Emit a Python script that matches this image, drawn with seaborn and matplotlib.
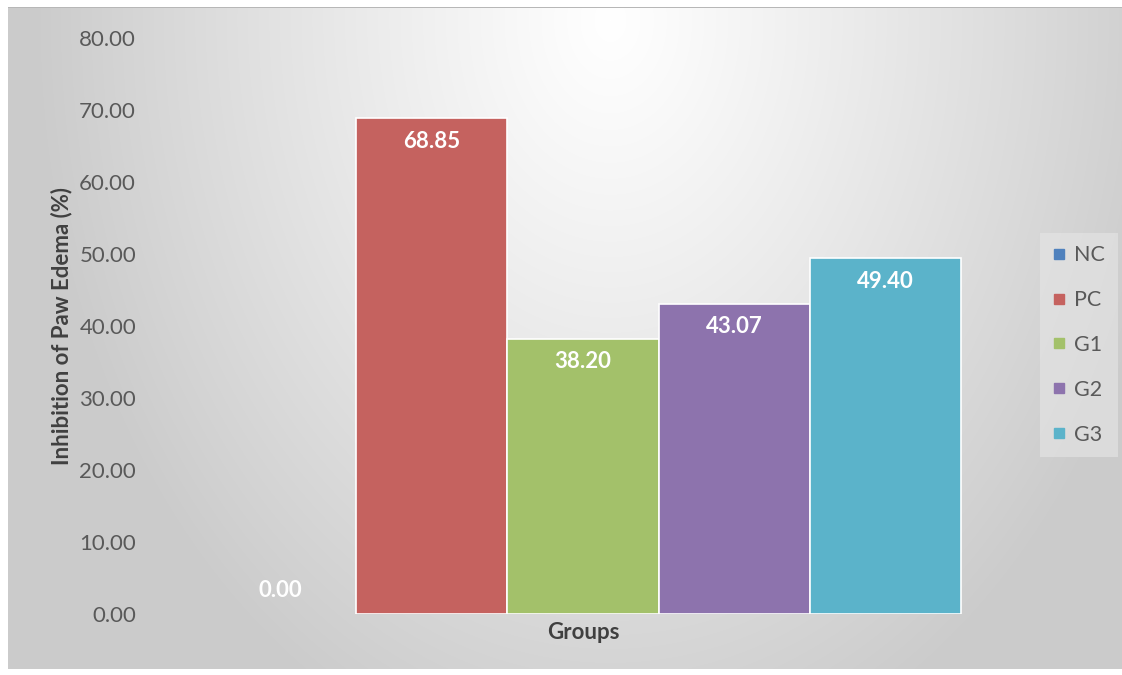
import numpy as np
import pandas as pd
import matplotlib
matplotlib.use("Agg")
import matplotlib.pyplot as plt
from matplotlib.lines import Line2D
import seaborn as sns

# ---- data ----
groups = ["NC", "PC", "G1", "G2", "G3"]
values = [0.00, 68.85, 38.20, 43.07, 49.40]
category = ["Groups"] * len(groups)
yticks = [0, 10, 20, 30, 40, 50, 60, 70, 80]
colors = ["#4F81BD", "#C5625F", "#A3C16A", "#8D73AD", "#5BB3CA"]

df = pd.DataFrame({"cat": category, "group": groups, "value": values})

sns.set_theme(style="white")
plt.rcParams["font.family"] = ["Lato", "DejaVu Sans"]

W, H = 1122, 675
fig = plt.figure(figsize=(W / 100, H / 100), dpi=100)

# background radial gradient (chart area)
bg = fig.add_axes([0, 0, 1, 1], zorder=-10)
yy, xx = np.mgrid[0:H, 0:W]
d = np.sqrt(((xx - 610) / 580.0) ** 2 + ((yy - 20) / 780.0) ** 2)
d = np.clip(d, 0, 1)
val = (255 - 52 * d ** 1.1) / 255.0
img = np.dstack([val, val, val])
mask = (xx < 8) | (yy < 7) | (yy > 668)
img[mask] = 1.0
img[(yy == 7) & (xx >= 8)] = 0.72
bg.imshow(img, aspect="auto", extent=[0, W, H, 0], interpolation="bilinear")
bg.set_xlim(0, W)
bg.set_ylim(H, 0)
bg.axis("off")

L, R, T, B = 150, 1016, 38, 614
ax = fig.add_axes([L / W, 1 - B / H, (R - L) / W, (B - T) / H])
ax.set_facecolor("none")

sns.barplot(data=df, x="cat", y="value", hue="group", hue_order=groups,
            palette=colors, saturation=1, width=756 / 866, dodge=True,
            edgecolor="white", linewidth=1.2, ax=ax, legend=False)

ax.set_xlim(-0.5, 0.5)
ax.set_ylim(0, 80)
ax.set_yticks(yticks)
ax.set_yticklabels([f"{v:.2f}" for v in yticks], fontsize=16, color="#595959")
ax.tick_params(axis="both", length=0)
ax.tick_params(axis="y", pad=10)
ax.tick_params(axis="x", pad=6)
for lab in ax.get_xticklabels():
    lab.set_fontweight("bold")
    lab.set_fontsize(16)
    lab.set_color("#404040")
ax.set_xlabel("")
ax.set_ylabel("Inhibition of Paw Edema (%)", fontsize=16, fontweight="bold",
              color="#404040")
ax.yaxis.set_label_coords((72 - L) / (R - L), 0.5)
for s in ax.spines.values():
    s.set_visible(False)
ax.grid(False)

# data labels
for cont, v in zip(ax.containers, values):
    for bar in cont:
        cx = bar.get_x() + bar.get_width() / 2
        h = bar.get_height()
        if h == 0:
            bar.set_linewidth(0)
        off = -16.5 if h > 0 else 17
        ax.annotate(f"{v:.2f}", (cx, h), xytext=(0, off), textcoords="offset points",
                    ha="center", va="center", color="white", fontsize=16,
                    fontweight="bold")

# legend
handles = [Line2D([0], [0], marker="s", linestyle="none", markersize=6.5,
                  markerfacecolor=c, markeredgecolor=c) for c in colors]
leg = fig.legend(handles, groups, loc="center left",
                 bbox_to_anchor=(1040 / W, 1 - 345 / H), frameon=True,
                 fontsize=15.5, labelspacing=1.15, handlelength=0.6,
                 handletextpad=0.4, borderpad=0.6, borderaxespad=0,
                 fancybox=False)
leg.get_frame().set_facecolor("#e6e6e6")
leg.get_frame().set_alpha(0.6)
leg.get_frame().set_edgecolor("none")
for t in leg.get_texts():
    t.set_color("#595959")

fig.savefig("out.png", dpi=100)
